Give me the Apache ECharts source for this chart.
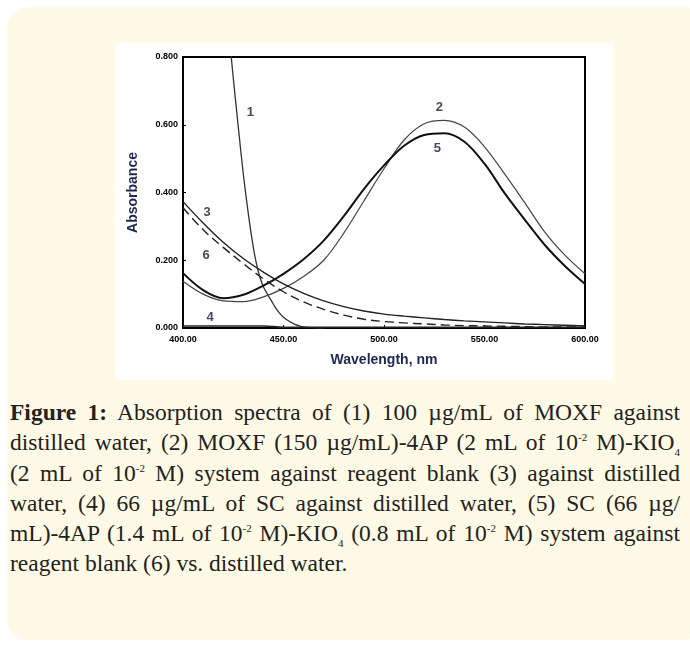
<!DOCTYPE html>
<html>
<head>
<meta charset="utf-8">
<script src="https://cdn.jsdelivr.net/npm/echarts@6/dist/echarts.min.js"></script>
<style>
  html, body { margin: 0; padding: 0; background: #fff; width: 690px; height: 647px; overflow: hidden; }
  .card {
    position: absolute; left: 7px; top: 7px; width: 700px; height: 633px;
    background: #fffae6; border-radius: 22px;
  }
  #chart {
    position: absolute; left: 115px; top: 43px; width: 498px; height: 337px;
    background: #fff;
  }
  .caption {
    position: absolute; left: 10px; top: 397px; width: 670px;
    font-family: "Liberation Serif", "DejaVu Serif", serif;
    font-size: 23.5px; line-height: 30.3px; color: #222;
  }
  .caption div { text-align: justify; text-align-last: justify; white-space: nowrap; }
  .caption div.last { text-align-last: left; }
  .caption sup, .caption sub { font-size: 11px; line-height: 0; }
</style>
</head>
<body>
<div class="card"></div>
<div id="chart"></div>
<div class="caption">
  <div><b>Figure 1:</b> Absorption spectra of (1) 100 µg/mL of MOXF against</div>
  <div>distilled water, (2) MOXF (150 µg/mL)-4AP (2 mL of 10<sup>-2</sup> M)-KIO<sub>4</sub></div>
  <div>(2 mL of 10<sup>-2</sup> M) system against reagent blank (3) against distilled</div>
  <div>water, (4) 66 µg/mL of SC against distilled water, (5) SC (66 µg/</div>
  <div>mL)-4AP (1.4 mL of 10<sup>-2</sup> M)-KIO<sub>4</sub> (0.8 mL of 10<sup>-2</sup> M) system against</div>
  <div class="last">reagent blank (6) vs. distilled water.</div>
</div>
<script>
// wavelengths (nm) shared by curves 2-6
var wl = [400, 410, 420, 430, 440, 450, 460, 470, 480, 490, 500, 510, 520, 530, 540, 550, 560, 570, 580, 590, 600];

// curve 1 has its own finer grid (steep drop, runs off the top)
var wl1 = [418, 420, 422, 424, 426, 428, 430, 432, 434, 436, 438, 440, 442, 444, 446, 448, 450, 452, 454, 456, 458, 460, 462, 464, 466, 468, 470];
var abs1 = [1.20, 1.07, 0.93, 0.80, 0.68, 0.565, 0.455, 0.36, 0.275, 0.205, 0.155, 0.122, 0.100, 0.080, 0.060, 0.044, 0.032, 0.023, 0.016, 0.010, 0.006, 0.003, 0.002, 0.001, 0.001, 0, 0];

var abs2 = [0.138, 0.100, 0.080, 0.078, 0.092, 0.117, 0.152, 0.200, 0.280, 0.375, 0.470, 0.555, 0.603, 0.613, 0.593, 0.535, 0.455, 0.370, 0.283, 0.215, 0.160];
var abs3 = [0.373, 0.310, 0.253, 0.205, 0.165, 0.130, 0.102, 0.080, 0.063, 0.050, 0.041, 0.035, 0.030, 0.025, 0.021, 0.018, 0.015, 0.012, 0.010, 0.008, 0.006];
var abs4 = [0.006, 0.006, 0.006, 0.006, 0.006, 0.002, 0.002, 0.002, 0.002, 0.002, 0.002, 0.002, 0.002, 0.002, 0.002, 0.002, 0.002, 0.002, 0.002, 0.002, 0.002];
var abs5 = [0.162, 0.112, 0.088, 0.098, 0.125, 0.160, 0.203, 0.258, 0.330, 0.410, 0.480, 0.538, 0.570, 0.575, 0.550, 0.485, 0.398, 0.320, 0.245, 0.183, 0.130];
var abs6 = [0.355, 0.290, 0.238, 0.190, 0.145, 0.107, 0.077, 0.055, 0.038, 0.026, 0.019, 0.015, 0.012, 0.009, 0.007, 0.006, 0.005, 0.004, 0.003, 0.003, 0.003];

// curve number labels, in data coordinates [wavelength, absorbance, text]
var curveLabels = [[433.5, 0.635, '1'], [527.5, 0.652, '2'], [412, 0.34, '3'], [413.5, 0.032, '4'], [526.5, 0.531, '5'], [411.5, 0.215, '6']];

var xTicks = { min: 400, max: 600, step: 50 };
var yTicks = { min: 0, max: 0.8, step: 0.2 };

function pairs(xs, ys) {
  return xs.map(function (x, i) { return [x, ys[i]]; });
}

function curve(name, xs, ys, width, color, dashed) {
  return {
    name: name,
    type: 'line',
    data: pairs(xs, ys),
    smooth: 0.35,
    showSymbol: false,
    clip: true,
    lineStyle: { width: width, color: color, type: dashed ? [9, 5] : 'solid' },
    z: 3
  };
}

var chart = echarts.init(document.getElementById('chart'));
chart.setOption({
  animation: false,
  grid: {
    left: 68, top: 14, right: 28, bottom: 52,
    show: true, borderColor: '#000', borderWidth: 2, backgroundColor: '#fff'
  },
  xAxis: {
    type: 'value',
    min: xTicks.min, max: xTicks.max, interval: xTicks.step,
    name: 'Wavelength, nm',
    nameLocation: 'middle',
    nameGap: 25,
    nameTextStyle: { fontFamily: 'Liberation Sans, Arial', fontWeight: 'bold', fontSize: 14, color: '#1d2752' },
    axisLine: { lineStyle: { color: '#000', width: 2 } },
    axisTick: { inside: true, length: 3, lineStyle: { color: '#000' } },
    axisLabel: {
      fontFamily: 'Liberation Sans, Arial', fontWeight: 'bold', fontSize: 9, color: '#000', margin: 7,
      formatter: function (v) { return v.toFixed(2); }
    },
    splitLine: { show: false }
  },
  yAxis: {
    type: 'value',
    min: yTicks.min, max: yTicks.max, interval: yTicks.step,
    name: 'Absorbance',
    nameLocation: 'middle',
    nameGap: 43,
    nameTextStyle: { fontFamily: 'Liberation Sans, Arial', fontWeight: 'bold', fontSize: 14, color: '#1d2752' },
    axisLine: { show: true, lineStyle: { color: '#000', width: 2 } },
    axisTick: { show: true, inside: true, length: 3, lineStyle: { color: '#000' } },
    axisLabel: {
      fontFamily: 'Liberation Sans, Arial', fontWeight: 'bold', fontSize: 9, color: '#000', margin: 5,
      formatter: function (v) { return v.toFixed(3); }
    },
    splitLine: { show: false }
  },
  series: [
    curve('1', wl1, abs1, 1.3, '#333', false),
    curve('2', wl, abs2, 1.2, '#444', false),
    curve('3', wl, abs3, 1.4, '#222', false),
    curve('4', wl, abs4, 1.6, '#222', false),
    curve('5', wl, abs5, 2, '#111', false),
    curve('6', wl, abs6, 1.4, '#222', true),
    {
      type: 'scatter',
      symbolSize: 0,
      data: curveLabels.map(function (d) { return { value: [d[0], d[1]], name: d[2] }; }),
      label: {
        show: true, position: 'inside',
        formatter: function (p) { return p.name; },
        fontFamily: 'Liberation Sans, Arial', fontWeight: 'bold', fontSize: 13, color: '#141a33'
      },
      z: 5
    }
  ]
});
</script>
</body>
</html>
